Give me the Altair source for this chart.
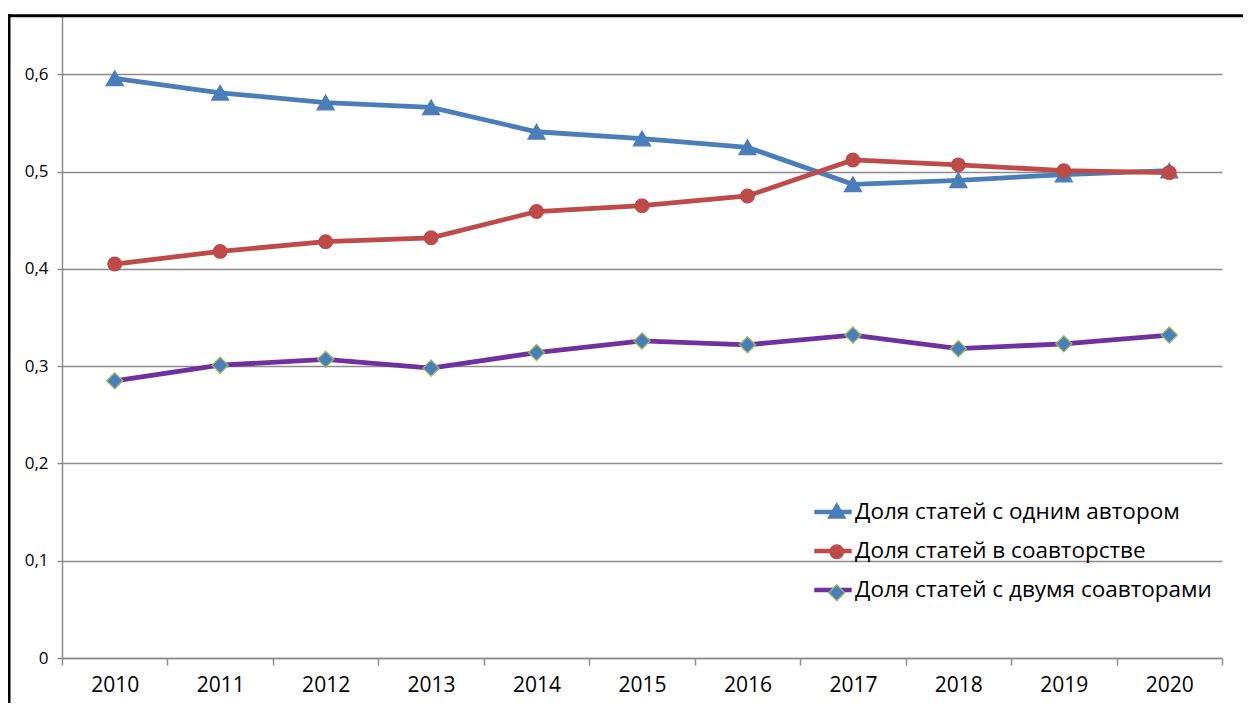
import altair as alt
import pandas as pd

# ---- data ----
years = [str(y) for y in range(2010, 2021)]
series_names = [
    "Доля статей с одним автором",
    "Доля статей в соавторстве",
    "Доля статей с двумя соавторами",
]
single_author = [0.596, 0.581, 0.571, 0.566, 0.541, 0.534, 0.525, 0.487, 0.491, 0.497, 0.501]
coauthored = [0.405, 0.418, 0.428, 0.432, 0.459, 0.465, 0.475, 0.512, 0.507, 0.501, 0.499]
two_coauthors = [0.285, 0.301, 0.307, 0.298, 0.314, 0.326, 0.322, 0.332, 0.318, 0.323, 0.332]
y_ticks = [0, 0.1, 0.2, 0.3, 0.4, 0.5, 0.6]
marker_keys = ["1", "2", "3"]

# ---- styles ----
FONT = "Open Sans"
GRID = "#8C8C8C"
line_colors = ["#4A7EBB", "#BE4B48", "#7030A0"]
marker_fills = ["#4A7EBB", "#BE4B48", "#4A7EBB"]
marker_strokes = ["#4A7EBB", "#BE4B48", "#9BBB59"]
marker_paths = [
    "M0,-0.88L1.0,0.85L-1.0,0.85Z",
    "M0.8,0A0.8,0.8,0,1,1,-0.8,0A0.8,0.8,0,1,1,0.8,0Z",
    "M0,-0.95L0.95,0L0,0.95L-0.95,0Z",
]

rows = []
for name, key, vals in zip(series_names, marker_keys, [single_author, coauthored, two_coauthors]):
    for yr, v in zip(years, vals):
        rows.append({"year": yr, "value": v, "series": name, "key": key})
df = pd.DataFrame(rows)

x_enc = alt.X(
    "year:O",
    scale=alt.Scale(type="band", domain=years, paddingInner=0, paddingOuter=0),
    axis=alt.Axis(
        title=None, labelAngle=0, tickBand="extent", grid=False,
        domainColor=GRID, domainWidth=1.5, tickColor=GRID, tickWidth=1.5, tickSize=7,
        labelFont=FONT, labelFontSize=21, labelColor="#000000", labelPadding=9,
    ),
)
y_enc = alt.Y(
    "value:Q",
    scale=alt.Scale(domain=[0, 0.66], nice=False, zero=True),
    axis=alt.Axis(
        title=None, values=y_ticks,
        labelExpr="datum.value == 0 ? '0' : replace(format(datum.value, '.1f'), '.', ',')",
        grid=True, gridColor=GRID, gridWidth=1.5,
        domainColor=GRID, domainWidth=1.5, tickColor=GRID, tickWidth=1.5, tickSize=5,
        labelFont=FONT, labelFontSize=17, labelColor="#000000", labelPadding=9,
    ),
)

line_legend = alt.Legend(
    orient="none", legendX=750, legendY=475, title=None, padding=0,
    symbolType="stroke", symbolSize=1400, symbolStrokeWidth=4.5,
    labelFont=FONT, labelFontSize=22.5, labelColor="#000000", labelOffset=1,
    labelLimit=600, rowPadding=6,
)
marker_legend = alt.Legend(
    orient="none", legendX=763.5, legendY=483.5, title=None, padding=0,
    symbolSize=289, symbolStrokeWidth=1.3, symbolOpacity=1,
    labelFont=FONT, labelFontSize=22.5, labelOpacity=0, labelOffset=3,
    labelExpr="''", labelLimit=600, rowPadding=18,
)

lines = alt.Chart(df).mark_line(strokeWidth=4.8).encode(
    x=x_enc,
    y=y_enc,
    color=alt.Color("series:N", scale=alt.Scale(domain=series_names, range=line_colors), legend=line_legend),
)

points = alt.Chart(df).mark_point(filled=True, size=289, strokeWidth=1.3, opacity=1).encode(
    x=x_enc,
    y=y_enc,
    fill=alt.Fill("key:N", scale=alt.Scale(domain=marker_keys, range=marker_fills), legend=marker_legend),
    stroke=alt.Stroke("key:N", scale=alt.Scale(domain=marker_keys, range=marker_strokes), legend=marker_legend),
    shape=alt.Shape("key:N", scale=alt.Scale(domain=marker_keys, range=marker_paths), legend=marker_legend),
)

frame_left = alt.Chart(alt.Data(values=[{}])).mark_rule(color="black", strokeWidth=3).encode(
    x=alt.value(-53), y=alt.value(-2), y2=alt.value(700)
)
frame_top = alt.Chart(alt.Data(values=[{}])).mark_rule(color="black", strokeWidth=3).encode(
    x=alt.value(-60), x2=alt.value(1200), y=alt.value(-0.3)
)

chart = (
    alt.layer(lines, points, frame_left, frame_top)
    .properties(
        width=1160, height=642,
        autosize=alt.AutoSizeParams(type="none"),
        padding={"left": 54, "top": 8, "right": 21, "bottom": 45},
        background="white",
    )
    .configure_view(stroke=None)
)

chart.save("out.html", embed_options={"renderer": "svg", "actions": False})
